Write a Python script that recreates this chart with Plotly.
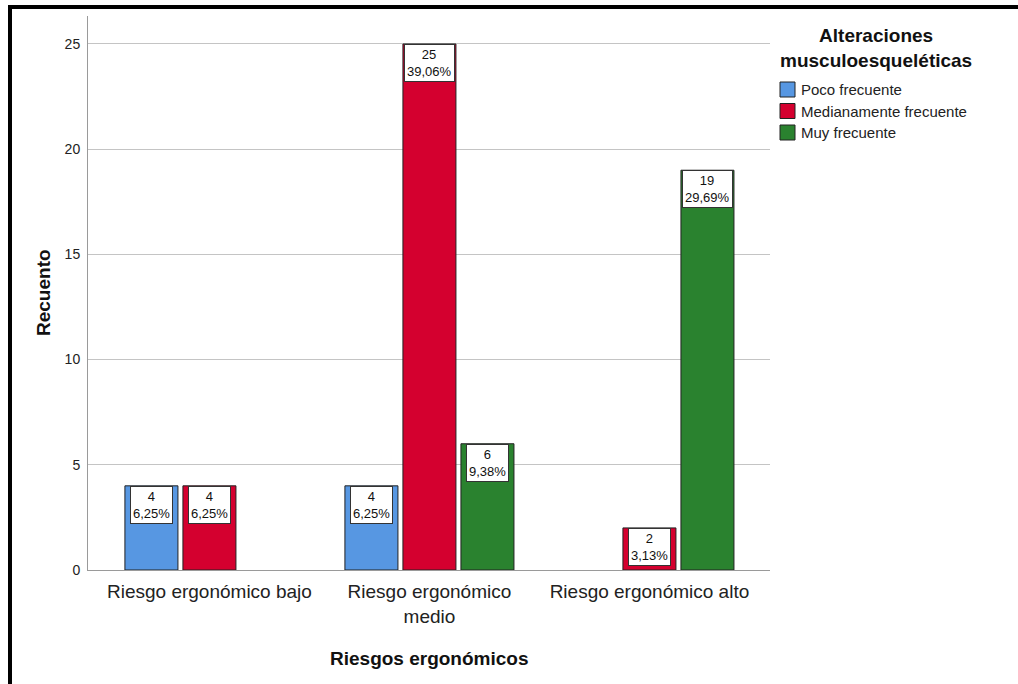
import plotly.graph_objects as go

# ---- data ----
categories = ["Riesgo ergonómico bajo", "Riesgo ergonómico<br>medio", "Riesgo ergonómico alto"]
series_names = ["Poco frecuente", "Medianamente frecuente", "Muy frecuente"]
poco = [4, 4, None]
mediana = [4, 25, 2]
muy = [None, 6, 19]
poco_pct = ["6,25%", "6,25%", None]
mediana_pct = ["6,25%", "39,06%", "3,13%"]
muy_pct = [None, "9,38%", "29,69%"]
y_ticks = [0, 5, 10, 15, 20, 25]

colors = ["#5797E2", "#D4002F", "#2A822F"]
values = [poco, mediana, muy]
pcts = [poco_pct, mediana_pct, muy_pct]

FONT = "Liberation Sans, Arial, sans-serif"
W, H = 1018, 684
L, R, T, B = 88, 248, 16, 114
PW, PH = W - L - R, H - T - B


def px(xp):
    return (xp - L) / PW


def py(yp):
    return (H - B - yp) / PH


BARGAP = 0.209
BARGROUPGAP = 0.086
xs = list(range(len(categories)))

fig = go.Figure()
for name, vals, col in zip(series_names, values, colors):
    fig.add_trace(go.Bar(
        x=xs, y=vals, name=name,
        marker=dict(color=col, line=dict(color="#222222", width=1)),
        showlegend=False, hoverinfo="skip",
    ))

annotations = []
slot = (1 - BARGAP) / len(series_names)
for i, (vals, pc) in enumerate(zip(values, pcts)):
    off = (i - (len(series_names) - 1) / 2) * slot
    for ci, (v, p) in enumerate(zip(vals, pc)):
        if v is None:
            continue
        annotations.append(dict(
            x=ci + off, y=v, xref="x", yref="y", yanchor="top", xanchor="center",
            text=f"{v}<br>{p}", showarrow=False,
            font=dict(family=FONT, size=13, color="#111111"),
            bgcolor="white", bordercolor="#333333", borderwidth=1, borderpad=2,
        ))

# axis titles
annotations.append(dict(x=px(429), y=py(658), xref="paper", yref="paper",
                        text="<b>Riesgos ergonómicos</b>", showarrow=False,
                        font=dict(family=FONT, size=19, color="#111111"),
                        xanchor="center", yanchor="middle"))
annotations.append(dict(x=px(43), y=py(293), xref="paper", yref="paper",
                        text="<b>Recuento</b>", showarrow=False, textangle=-90,
                        font=dict(family=FONT, size=19, color="#111111"),
                        xanchor="center", yanchor="middle"))

# legend (manual)
annotations.append(dict(x=px(876), y=py(48.5), xref="paper", yref="paper",
                        text="<b>Alteraciones<br>musculoesqueléticas</b>", showarrow=False,
                        font=dict(family=FONT, size=19, color="#111111"),
                        xanchor="center", yanchor="middle", align="center"))
shapes = []
leg_y = [89.5, 111, 132.5]
for name, col, yc in zip(series_names, colors, leg_y):
    shapes.append(dict(type="rect", xref="paper", yref="paper",
                       x0=px(780), x1=px(795), y0=py(yc + 7.5), y1=py(yc - 7.5),
                       fillcolor=col, line=dict(color="#222222", width=1)))
    annotations.append(dict(x=px(799), y=py(yc), xref="paper", yref="paper",
                            text=name, showarrow=False,
                            font=dict(family=FONT, size=15, color="#222222"),
                            xanchor="left", yanchor="middle"))

# outer frame (top & left black lines)
shapes.append(dict(type="line", xref="paper", yref="paper",
                   x0=px(8), x1=px(1018), y0=py(7), y1=py(7),
                   line=dict(color="black", width=4)))
shapes.append(dict(type="line", xref="paper", yref="paper",
                   x0=px(10), x1=px(10), y0=py(5), y1=py(684),
                   line=dict(color="black", width=4)))

fig.update_layout(
    width=W, height=H,
    margin=dict(l=L, r=R, t=T, b=B, pad=0),
    paper_bgcolor="white", plot_bgcolor="white",
    barmode="group", bargap=BARGAP, bargroupgap=BARGROUPGAP,
    font=dict(family=FONT, color="#222222"),
    annotations=annotations, shapes=shapes,
    xaxis=dict(
        range=[-0.552, 2.548], tickmode="array", tickvals=xs, ticktext=categories,
        showgrid=False, zeroline=False, showline=True, linecolor="#9a9a9a", linewidth=1,
        ticks="", tickfont=dict(family=FONT, size=19, color="#222222"),
        ticklabelstandoff=4,
    ),
    yaxis=dict(
        range=[0, 26.33], tickmode="array", tickvals=y_ticks,
        showgrid=True, gridcolor="#c4c4c4", gridwidth=1, zeroline=False,
        showline=True, linecolor="#9a9a9a", linewidth=1,
        ticks="", tickfont=dict(family=FONT, size=14, color="#222222"),
        ticklabelstandoff=4,
    ),
)

fig.write_html("out.html")
